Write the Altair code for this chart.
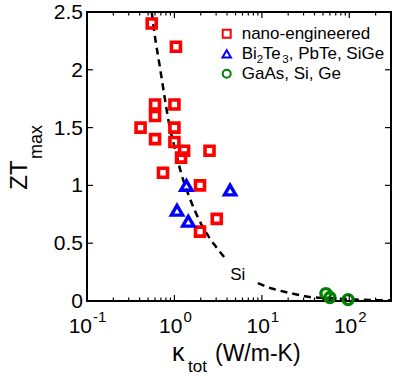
import altair as alt
import pandas as pd

# ---------------- data ----------------
nano_k = [0.55, 1.04, 0.60, 1.00, 0.60, 0.41, 1.00, 0.60, 1.00, 1.29, 1.19, 2.52, 0.74, 1.96, 3.05, 1.96]
nano_zt = [2.40, 2.20, 1.70, 1.70, 1.60, 1.50, 1.50, 1.40, 1.375, 1.30, 1.24, 1.30, 1.11, 1.00, 0.71, 0.60]

bulk_k = [1.37, 4.33, 1.07, 1.44]
bulk_zt = [1.00, 0.96, 0.785, 0.69]

semi_k = [54, 60, 97]
semi_zt = [0.064, 0.030, 0.012]

curve1_k = [0.55, 0.59, 0.68, 0.77, 0.88, 1.03, 1.19, 1.48, 1.92, 2.50, 2.98, 3.70]
curve1_zt = [2.50, 2.32, 2.03, 1.77, 1.51, 1.30, 1.11, 0.90, 0.70, 0.55, 0.47, 0.38]
curve2_k = [9.0, 13, 18.6, 25, 34, 50, 75, 120, 180, 255, 300]
curve2_zt = [0.155, 0.108, 0.078, 0.056, 0.036, 0.027, 0.019, 0.012, 0.008, 0.006, 0.005]

si_label_k = [5.3]
si_label_zt = [0.18]
si_label = ["Si"]

x_major = [0.1, 1, 10, 100]
x_exp = ["-1", "0", "1", "2"]
x_minor = [0.2, 0.3, 0.4, 0.5, 0.6, 0.7, 0.8, 0.9,
           2, 3, 4, 5, 6, 7, 8, 9,
           20, 30, 40, 50, 60, 70, 80, 90, 200]
y_ticks = [0, 0.5, 1, 1.5, 2, 2.5]
y_labels = ["0", "0.5", "1", "1.5", "2", "2.5"]

legend_names = ["nano-engineered", "Bi2Te3, PbTe, SiGe", "GaAs, Si, Ge"]

# ---------------- styling ----------------
W, H = 304, 289
FONT = "Liberation Sans"
RED, BLUE, GREEN = "#ff0000", "#0000ff", "#008000"

xs = alt.Scale(type="log", domain=[0.1, 300])
ys = alt.Scale(domain=[0, 2.5])


def X(f):
    return alt.X(f, type="quantitative", scale=xs, axis=None)


def Y(f):
    return alt.Y(f, type="quantitative", scale=ys, axis=None)


layers = []

# dashed fit curve (broken around the "Si" label)
curve_df = pd.DataFrame({
    "k": curve1_k + curve2_k,
    "zt": curve1_zt + curve2_zt,
    "seg": ["a"] * len(curve1_k) + ["b"] * len(curve2_k),
})
layers.append(
    alt.Chart(curve_df).mark_line(color="black", strokeWidth=2.5, strokeDash=[7, 5],
                                  interpolate="monotone")
    .encode(x=X("k"), y=Y("zt"), detail="seg:N")
)

layers.append(
    alt.Chart(pd.DataFrame({"k": si_label_k, "zt": si_label_zt, "t": si_label}))
    .mark_text(font=FONT, fontSize=17, align="center", baseline="alphabetic", color="black")
    .encode(x=X("k"), y=Y("zt"), text="t:N")
)

# markers
layers.append(
    alt.Chart(pd.DataFrame({"k": nano_k, "zt": nano_zt}))
    .mark_point(shape="square", filled=False, size=81, strokeWidth=3.6, color=RED, opacity=1)
    .encode(x=X("k"), y=Y("zt"))
)
layers.append(
    alt.Chart(pd.DataFrame({"k": bulk_k, "zt": bulk_zt}))
    .mark_point(shape="triangle-up", filled=False, size=125, strokeWidth=3.4, color=BLUE, opacity=1)
    .encode(x=X("k"), y=Y("zt"))
)
layers.append(
    alt.Chart(pd.DataFrame({"k": semi_k, "zt": semi_zt}))
    .mark_point(shape="circle", filled=False, size=100, strokeWidth=3.4, color=GREEN, opacity=1)
    .encode(x=X("k"), y=Y("zt"))
)

# inward ticks on all four sides
xmaj = pd.DataFrame({"v": x_major})
xmin = pd.DataFrame({"v": x_minor})
ytk = pd.DataFrame({"v": y_ticks, "t": y_labels})
for df, ln in ((xmaj, 6), (xmin, 3.5)):
    layers.append(alt.Chart(df).mark_rule(color="black", strokeWidth=1.2)
                  .encode(x=X("v"), y=alt.value(H), y2=alt.value(H - ln)))
    layers.append(alt.Chart(df).mark_rule(color="black", strokeWidth=1.2)
                  .encode(x=X("v"), y=alt.value(0), y2=alt.value(ln)))
layers.append(alt.Chart(ytk).mark_rule(color="black", strokeWidth=1.2)
              .encode(y=Y("v"), x=alt.value(0), x2=alt.value(6)))
layers.append(alt.Chart(ytk).mark_rule(color="black", strokeWidth=1.2)
              .encode(y=Y("v"), x=alt.value(W), x2=alt.value(W - 6)))

# y tick labels
layers.append(alt.Chart(ytk).mark_text(font=FONT, fontSize=21, align="right",
                                       baseline="middle", dy=1, color="black")
              .encode(y=Y("v"), x=alt.value(-4), text="t:N"))

# x tick labels 10^n
for v, e in zip(x_major, x_exp):
    d = pd.DataFrame({"v": [v], "e": [e]})
    off = 8 if len(e) == 1 else 5
    layers.append(alt.Chart(d).mark_text(font=FONT, fontSize=21, align="right",
                                         baseline="alphabetic", dx=off, color="black")
                  .encode(x=X("v"), y=alt.value(H + 32), text=alt.value("10")))
    layers.append(alt.Chart(d).mark_text(font=FONT, fontSize=15, align="left",
                                         baseline="alphabetic", dx=off + 1, color="black")
                  .encode(x=X("v"), y=alt.value(H + 21), text="e:N"))

one = pd.DataFrame({"i": [0]})


def txt(t, x, y, size, align="left", baseline="alphabetic", angle=0):
    kw = dict(font=FONT, fontSize=size, align=align, baseline=baseline, color="black")
    if angle:
        kw["angle"] = angle
    return alt.Chart(one).mark_text(**kw).encode(
        x=alt.value(x), y=alt.value(y), text=alt.value(t))


# axis titles
layers.append(txt("κ", 85, 349, 25))
layers.append(txt("tot", 101, 360, 17))
layers.append(txt("(W/m-K)", 128, 349, 23))
layers.append(txt("ZT", -60.5, 163, 24, align="center", angle=270))
layers.append(txt("max", -45.5, 130, 18, align="center", angle=270))

# legend
LX, LT = 139.7, 154.7
FS = 17
rows = [21.8, 41.8, 61.8]
for shape, col, size, yy in (("square", RED, 64, rows[0]),
                             ("triangle-up", BLUE, 72, rows[1]),
                             ("circle", GREEN, 64, rows[2])):
    layers.append(alt.Chart(one).mark_point(shape=shape, filled=False, size=size,
                                            strokeWidth=2, color=col, opacity=1)
                  .encode(x=alt.value(LX), y=alt.value(yy)))
layers.append(txt(legend_names[0], LT, rows[0] + 5.5, FS))
layers.append(txt("Bi", LT, rows[1] + 5.5, FS))
layers.append(txt("2", LT + 15, rows[1] + 9.5, 11.5))
layers.append(txt("Te", LT + 21, rows[1] + 5.5, FS))
layers.append(txt("3", LT + 40.5, rows[1] + 9.5, 11.5))
layers.append(txt(", PbTe, SiGe", LT + 47, rows[1] + 5.5, FS))
layers.append(txt(legend_names[2], LT, rows[2] + 5.5, FS))

chart = (
    alt.layer(*layers)
    .properties(width=W, height=H, autosize=alt.AutoSizeParams(type="none"),
                padding={"left": 87, "top": 12, "right": 2, "bottom": 76})
    .configure_view(stroke="black", strokeWidth=2)
)

chart.save("out.html", embed_options={"renderer": "svg", "actions": False})
